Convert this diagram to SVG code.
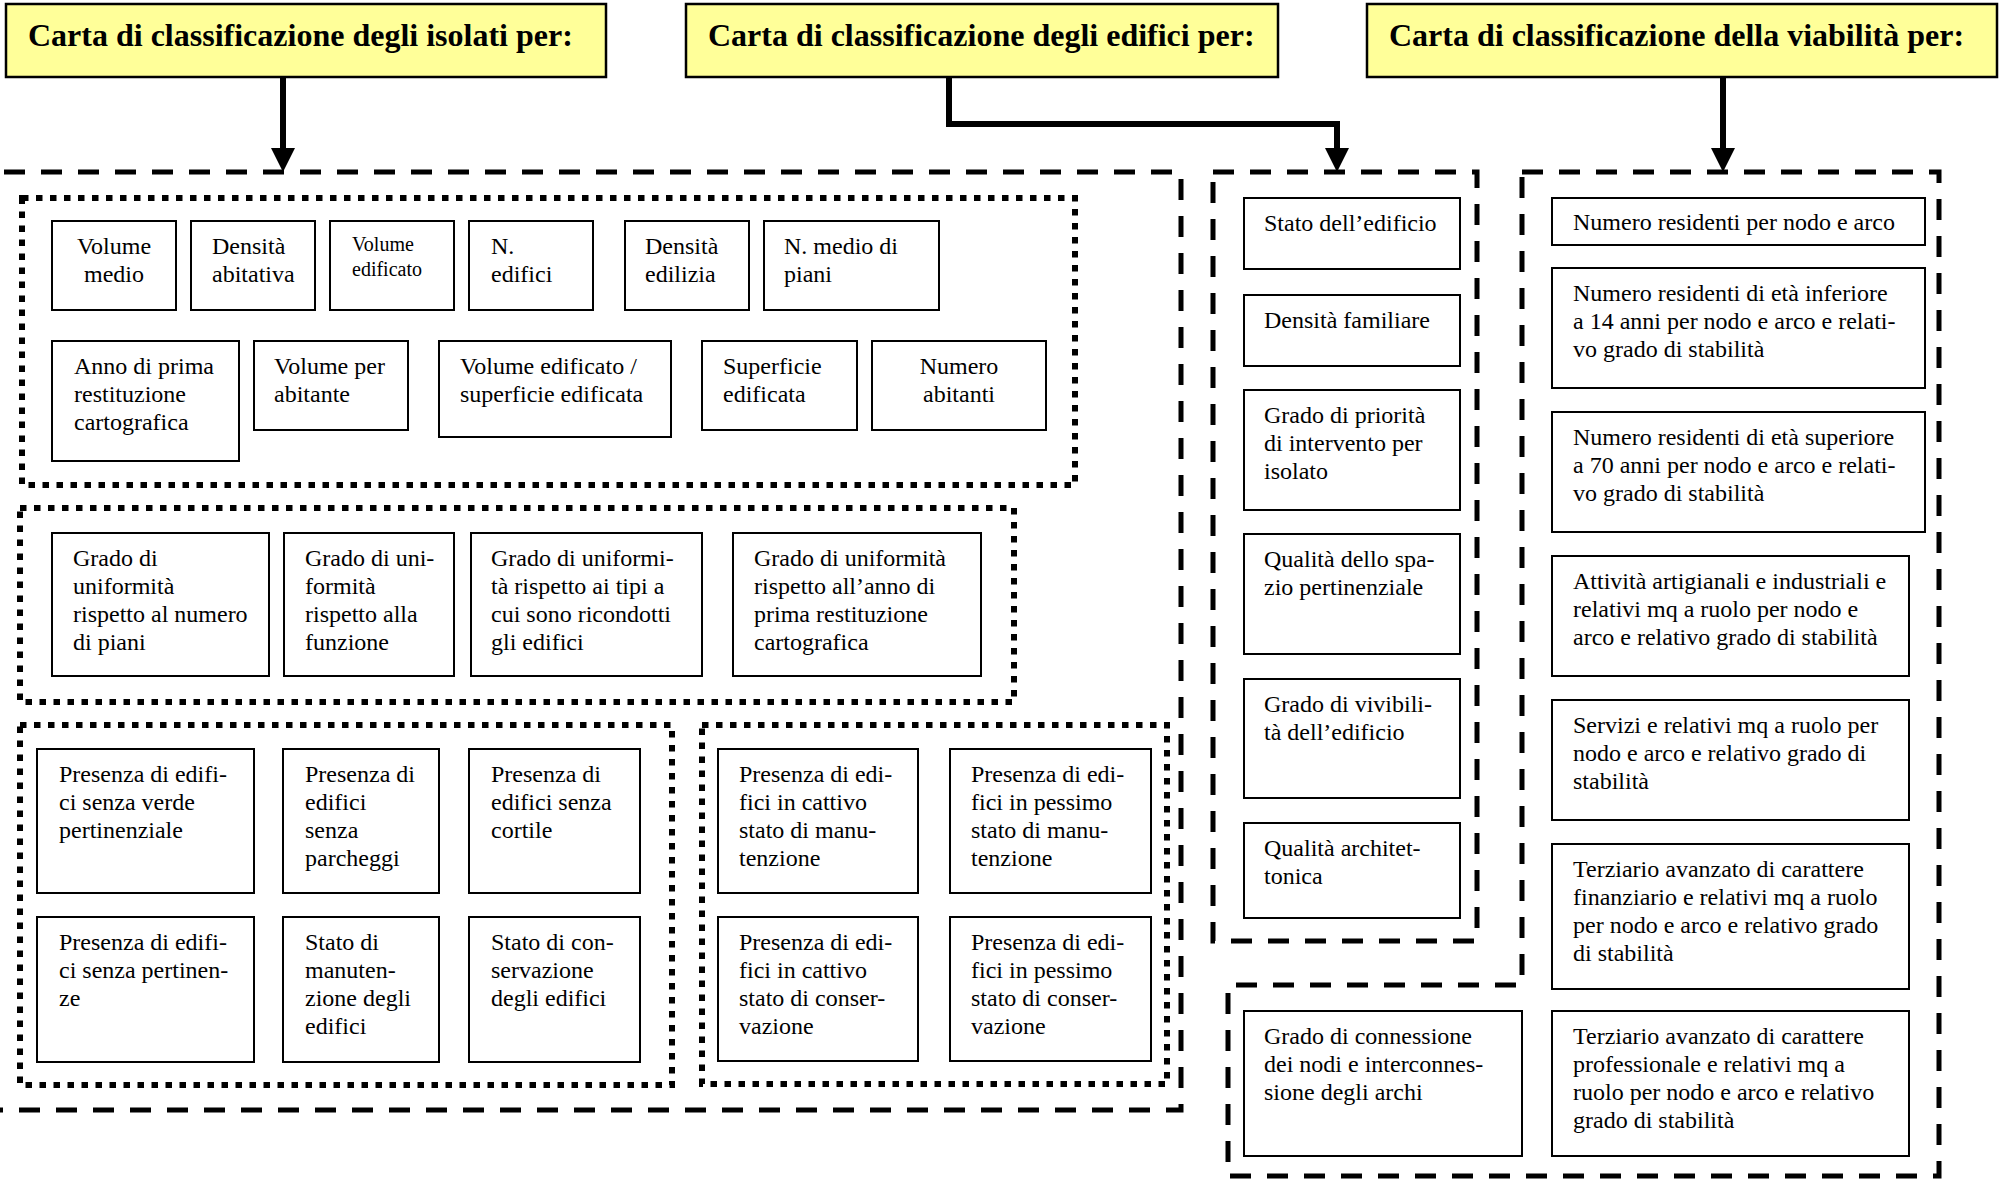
<svg xmlns="http://www.w3.org/2000/svg" width="2000" height="1181" viewBox="0 0 2000 1181">
<style>
.box{fill:#fff;stroke:#000;stroke-width:2}
.title{fill:#FFFF99;stroke:#000;stroke-width:2.5}
.t{font-family:"Liberation Serif","Times New Roman",serif;font-size:24px;fill:#000}
.ts{font-size:20px}
.tt{font-weight:bold;font-size:32px}
.c{text-anchor:middle}
.dash{fill:none;stroke:#000;stroke-width:5;stroke-dasharray:21 16}
.dot{fill:none;stroke:#000;stroke-width:6;stroke-dasharray:6.5 7.5}
.conn{fill:none;stroke:#000;stroke-width:6}
</style>
<defs>
<marker id="ah" viewBox="0 0 24 24" markerUnits="userSpaceOnUse" markerWidth="24" markerHeight="24" refX="4" refY="12" orient="auto">
<path d="M0,0 L24,12 L0,24 Z" fill="#000"/>
</marker>
</defs>
<rect width="2000" height="1181" fill="#fff"/>

<g id="containers">
<path id="cont-isolati" class="dash" d="M4,172 H1181 V1110 H0"/>
<rect id="grp-isolati-1" class="dot" x="22" y="198" width="1053" height="287"/>
<rect id="grp-isolati-2" class="dot" x="20" y="508" width="994" height="194"/>
<rect id="grp-isolati-3" class="dot" x="20" y="725" width="652" height="360"/>
<rect id="grp-isolati-4" class="dot" x="702" y="725" width="465" height="359"/>
<rect id="cont-edifici" class="dash" x="1213" y="172" width="264" height="769"/>
<path id="cont-viabilita" class="dash" d="M1522,172 H1939 V1176 H1228 V985 H1522 Z"/>
</g>

<g id="connectors">
<path class="conn" d="M283,77 V152" marker-end="url(#ah)"/>
<path class="conn" d="M949,77 V124 H1337 V152" marker-end="url(#ah)"/>
<path class="conn" d="M1723,77 V152" marker-end="url(#ah)"/>
</g>

<g id="title-isolati"><rect class="title" x="6" y="4" width="600" height="73"/><text class="t tt" x="28" y="46">Carta di classificazione degli isolati per:</text></g>
<g id="title-edifici"><rect class="title" x="686" y="4" width="592" height="73"/><text class="t tt" x="708" y="46">Carta di classificazione degli edifici per:</text></g>
<g id="title-viabilita"><rect class="title" x="1367" y="4" width="630" height="73"/><text class="t tt" x="1389" y="46">Carta di classificazione della viabilità per:</text></g>

<!-- isolati group 1 -->
<g id="n-volume-medio"><rect class="box" x="52" y="221" width="124" height="89"/><text class="t c" x="114" y="254">Volume</text><text class="t c" x="114" y="282">medio</text></g>
<g id="n-densita-abitativa"><rect class="box" x="191" y="221" width="124" height="89"/><text class="t" x="212" y="254">Densità</text><text class="t" x="212" y="282">abitativa</text></g>
<g id="n-volume-edificato"><rect class="box" x="330" y="221" width="124" height="89"/><text class="t ts" x="352" y="251">Volume</text><text class="t ts" x="352" y="276">edificato</text></g>
<g id="n-n-edifici"><rect class="box" x="469" y="221" width="124" height="89"/><text class="t" x="491" y="254">N.</text><text class="t" x="491" y="282">edifici</text></g>
<g id="n-densita-edilizia"><rect class="box" x="625" y="221" width="124" height="89"/><text class="t" x="645" y="254">Densità</text><text class="t" x="645" y="282">edilizia</text></g>
<g id="n-medio-piani"><rect class="box" x="764" y="221" width="175" height="89"/><text class="t" x="784" y="254">N. medio di</text><text class="t" x="784" y="282">piani</text></g>
<g id="n-anno"><rect class="box" x="52" y="341" width="187" height="120"/><text class="t" x="74" y="374">Anno di prima</text><text class="t" x="74" y="402">restituzione</text><text class="t" x="74" y="430">cartografica</text></g>
<g id="n-volume-abitante"><rect class="box" x="254" y="341" width="154" height="89"/><text class="t" x="274" y="374">Volume per</text><text class="t" x="274" y="402">abitante</text></g>
<g id="n-vol-sup"><rect class="box" x="439" y="341" width="232" height="96"/><text class="t" x="460" y="374">Volume edificato /</text><text class="t" x="460" y="402">superficie edificata</text></g>
<g id="n-superficie"><rect class="box" x="702" y="341" width="155" height="89"/><text class="t" x="723" y="374">Superficie</text><text class="t" x="723" y="402">edificata</text></g>
<g id="n-numero-abitanti"><rect class="box" x="872" y="341" width="174" height="89"/><text class="t c" x="959" y="374">Numero</text><text class="t c" x="959" y="402">abitanti</text></g>

<!-- isolati group 2 -->
<g id="n-unif-piani"><rect class="box" x="52" y="533" width="217" height="143"/><text class="t" x="73" y="566">Grado di</text><text class="t" x="73" y="594">uniformità</text><text class="t" x="73" y="622">rispetto al numero</text><text class="t" x="73" y="650">di piani</text></g>
<g id="n-unif-funzione"><rect class="box" x="284" y="533" width="170" height="143"/><text class="t" x="305" y="566">Grado di uni-</text><text class="t" x="305" y="594">formità</text><text class="t" x="305" y="622">rispetto alla</text><text class="t" x="305" y="650">funzione</text></g>
<g id="n-unif-tipi"><rect class="box" x="471" y="533" width="231" height="143"/><text class="t" x="491" y="566">Grado di uniformi-</text><text class="t" x="491" y="594">tà rispetto ai tipi a</text><text class="t" x="491" y="622">cui sono ricondotti</text><text class="t" x="491" y="650">gli edifici</text></g>
<g id="n-unif-anno"><rect class="box" x="733" y="533" width="248" height="143"/><text class="t" x="754" y="566">Grado di uniformità</text><text class="t" x="754" y="594">rispetto all’anno di</text><text class="t" x="754" y="622">prima restituzione</text><text class="t" x="754" y="650">cartografica</text></g>

<!-- isolati group 3 -->
<g id="n-senza-verde"><rect class="box" x="37" y="749" width="217" height="144"/><text class="t" x="59" y="782">Presenza di edifi-</text><text class="t" x="59" y="810">ci senza verde</text><text class="t" x="59" y="838">pertinenziale</text></g>
<g id="n-senza-parcheggi"><rect class="box" x="283" y="749" width="156" height="144"/><text class="t" x="305" y="782">Presenza di</text><text class="t" x="305" y="810">edifici</text><text class="t" x="305" y="838">senza</text><text class="t" x="305" y="866">parcheggi</text></g>
<g id="n-senza-cortile"><rect class="box" x="469" y="749" width="171" height="144"/><text class="t" x="491" y="782">Presenza di</text><text class="t" x="491" y="810">edifici senza</text><text class="t" x="491" y="838">cortile</text></g>
<g id="n-senza-pertinenze"><rect class="box" x="37" y="917" width="217" height="145"/><text class="t" x="59" y="950">Presenza di edifi-</text><text class="t" x="59" y="978">ci senza pertinen-</text><text class="t" x="59" y="1006">ze</text></g>
<g id="n-stato-manutenzione"><rect class="box" x="283" y="917" width="156" height="145"/><text class="t" x="305" y="950">Stato di</text><text class="t" x="305" y="978">manuten-</text><text class="t" x="305" y="1006">zione degli</text><text class="t" x="305" y="1034">edifici</text></g>
<g id="n-stato-conservazione"><rect class="box" x="469" y="917" width="171" height="145"/><text class="t" x="491" y="950">Stato di con-</text><text class="t" x="491" y="978">servazione</text><text class="t" x="491" y="1006">degli edifici</text></g>

<!-- isolati group 4 -->
<g id="n-cattivo-manu"><rect class="box" x="718" y="749" width="200" height="144"/><text class="t" x="739" y="782">Presenza di edi-</text><text class="t" x="739" y="810">fici in cattivo</text><text class="t" x="739" y="838">stato di manu-</text><text class="t" x="739" y="866">tenzione</text></g>
<g id="n-pessimo-manu"><rect class="box" x="950" y="749" width="201" height="144"/><text class="t" x="971" y="782">Presenza di edi-</text><text class="t" x="971" y="810">fici in pessimo</text><text class="t" x="971" y="838">stato di manu-</text><text class="t" x="971" y="866">tenzione</text></g>
<g id="n-cattivo-cons"><rect class="box" x="718" y="917" width="200" height="144"/><text class="t" x="739" y="950">Presenza di edi-</text><text class="t" x="739" y="978">fici in cattivo</text><text class="t" x="739" y="1006">stato di conser-</text><text class="t" x="739" y="1034">vazione</text></g>
<g id="n-pessimo-cons"><rect class="box" x="950" y="917" width="201" height="144"/><text class="t" x="971" y="950">Presenza di edi-</text><text class="t" x="971" y="978">fici in pessimo</text><text class="t" x="971" y="1006">stato di conser-</text><text class="t" x="971" y="1034">vazione</text></g>

<!-- edifici -->
<g id="n-stato-edificio"><rect class="box" x="1244" y="198" width="216" height="71"/><text class="t" x="1264" y="231">Stato dell’edificio</text></g>
<g id="n-densita-familiare"><rect class="box" x="1244" y="295" width="216" height="71"/><text class="t" x="1264" y="328">Densità familiare</text></g>
<g id="n-priorita"><rect class="box" x="1244" y="390" width="216" height="120"/><text class="t" x="1264" y="423">Grado di priorità</text><text class="t" x="1264" y="451">di intervento per</text><text class="t" x="1264" y="479">isolato</text></g>
<g id="n-spazio-pert"><rect class="box" x="1244" y="534" width="216" height="120"/><text class="t" x="1264" y="567">Qualità dello spa-</text><text class="t" x="1264" y="595">zio pertinenziale</text></g>
<g id="n-vivibilita"><rect class="box" x="1244" y="679" width="216" height="119"/><text class="t" x="1264" y="712">Grado di vivibili-</text><text class="t" x="1264" y="740">tà dell’edificio</text></g>
<g id="n-architettonica"><rect class="box" x="1244" y="823" width="216" height="95"/><text class="t" x="1264" y="856">Qualità architet-</text><text class="t" x="1264" y="884">tonica</text></g>

<!-- viabilita -->
<g id="n-residenti"><rect class="box" x="1552" y="198" width="373" height="47"/><text class="t" x="1573" y="230">Numero residenti per nodo e arco</text></g>
<g id="n-residenti-14"><rect class="box" x="1552" y="268" width="373" height="120"/><text class="t" x="1573" y="301">Numero residenti di età inferiore</text><text class="t" x="1573" y="329">a 14 anni per nodo e arco e relati-</text><text class="t" x="1573" y="357">vo grado di stabilità</text></g>
<g id="n-residenti-70"><rect class="box" x="1552" y="412" width="373" height="120"/><text class="t" x="1573" y="445">Numero residenti di età superiore</text><text class="t" x="1573" y="473">a 70 anni per nodo e arco e relati-</text><text class="t" x="1573" y="501">vo grado di stabilità</text></g>
<g id="n-artigianali"><rect class="box" x="1552" y="556" width="357" height="120"/><text class="t" x="1573" y="589">Attività artigianali e industriali e</text><text class="t" x="1573" y="617">relativi mq a ruolo per nodo e</text><text class="t" x="1573" y="645">arco e relativo grado di stabilità</text></g>
<g id="n-servizi"><rect class="box" x="1552" y="700" width="357" height="120"/><text class="t" x="1573" y="733">Servizi e relativi mq a ruolo per</text><text class="t" x="1573" y="761">nodo e arco e relativo grado di</text><text class="t" x="1573" y="789">stabilità</text></g>
<g id="n-terziario-fin"><rect class="box" x="1552" y="844" width="357" height="145"/><text class="t" x="1573" y="877">Terziario avanzato di carattere</text><text class="t" x="1573" y="905">finanziario e relativi mq a ruolo</text><text class="t" x="1573" y="933">per nodo e arco e relativo grado</text><text class="t" x="1573" y="961">di stabilità</text></g>
<g id="n-terziario-prof"><rect class="box" x="1552" y="1011" width="357" height="145"/><text class="t" x="1573" y="1044">Terziario avanzato di carattere</text><text class="t" x="1573" y="1072">professionale e relativi mq a</text><text class="t" x="1573" y="1100">ruolo per nodo e arco e relativo</text><text class="t" x="1573" y="1128">grado di stabilità</text></g>
<g id="n-connessione"><rect class="box" x="1244" y="1011" width="278" height="145"/><text class="t" x="1264" y="1044">Grado di connessione</text><text class="t" x="1264" y="1072">dei nodi e interconnes-</text><text class="t" x="1264" y="1100">sione degli archi</text></g>
</svg>
